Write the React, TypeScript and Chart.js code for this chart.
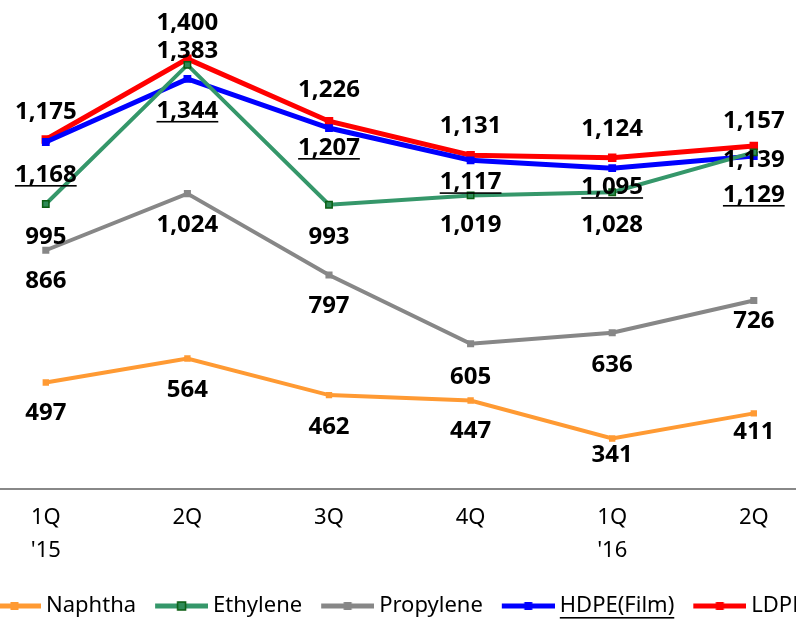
import React, { useEffect, useRef } from "react";
import { Chart, registerables } from "chart.js";

Chart.register(...registerables);

// ---- data ----
const QUARTERS = ["1Q", "2Q", "3Q", "4Q", "1Q", "2Q"];
const YEARS = ["'15", "", "", "", "'16", ""];
const SERIES_NAMES = ["Naphtha", "Ethylene", "Propylene", "HDPE(Film)", "LDPE"];
const NAPHTHA = [497, 564, 462, 447, 341, 411];
const ETHYLENE = [995, 1383, 993, 1019, 1028, 1139];
const PROPYLENE = [866, 1024, 797, 605, 636, 726];
const HDPE_FILM = [1168, 1344, 1207, 1117, 1095, 1129];
const LDPE = [1175, 1400, 1226, 1131, 1124, 1157];

const Y_MIN = 200;
const Y_MAX = 1500;

// ---- styling ----
const FONT = "'Noto Sans', 'DejaVu Sans', sans-serif";
const STYLES = [
  { line: "#FF9A33", width: 4, fill: "#FF9A33", border: "#FF9A33", radius: 4.5 },
  { line: "#35976A", width: 4, fill: "#2E8B57", border: "#0B5E12", radius: 4.5 },
  { line: "#878787", width: 4, fill: "#878787", border: "#878787", radius: 5 },
  { line: "#0000FF", width: 5, fill: "#0000FF", border: "#0000FF", radius: 5.5 },
  { line: "#FF0000", width: 5, fill: "#FF0000", border: "#FF0000", radius: 6 },
];
// vertical offset of each value label from its point (px)
const LABEL_DY = [
  [31, 32, 32, 31, 17, 19],
  [33, -14, 32, 30, 33, 8],
  [31, 32, 31, 33, 32, 21],
  [33, 32, 20, 22, 19, 39],
  [-27, -36, -31, -29, -29, -25],
];
const UNDERLINED = [false, false, false, true, false];

const CANVAS_W = 940;
const CANVAS_H = 627;
const CANVAS_LEFT = -31;
const PLOT_W = 855.6;
const LEGEND_BOX = 50;
const LEGEND_PAD = 16;
const LEGEND_FONT = 22;

function legendIcon(s: typeof STYLES[number]) {
  // line runs from (center-22) to (center+31) relative to the legend box centre
  const c = document.createElement("canvas");
  c.width = 62;
  c.height = 12;
  const g = c.getContext("2d")!;
  g.strokeStyle = s.line;
  g.lineWidth = 5;
  g.beginPath();
  g.moveTo(9, 6);
  g.lineTo(62, 6);
  g.stroke();
  const size = 8;
  const mid = 35.5;
  g.fillStyle = s.fill;
  g.fillRect(mid - size / 2, 6 - size / 2, size, size);
  if (s.border !== s.fill) {
    g.strokeStyle = s.border;
    g.lineWidth = 1.5;
    g.strokeRect(mid - size / 2, 6 - size / 2, size, size);
  }
  return c;
}

const valueLabels = {
  id: "valueLabels",
  afterDatasetsDraw(chart: any) {
    const ctx = chart.ctx as CanvasRenderingContext2D;
    ctx.save();
    ctx.font = `bold 24px ${FONT}`;
    ctx.fillStyle = "#000";
    ctx.textAlign = "center";
    ctx.textBaseline = "middle";
    chart.data.datasets.forEach((ds: any, i: number) => {
      const meta = chart.getDatasetMeta(i);
      meta.data.forEach((pt: any, j: number) => {
        const v = ds.data[j] as number;
        const txt = v.toLocaleString("en-US");
        const x = pt.x;
        const y = pt.y + LABEL_DY[i][j];
        ctx.fillText(txt, x, y);
        if (UNDERLINED[i]) {
          const w = ctx.measureText(txt).width;
          ctx.fillRect(x - w / 2, y + 10, w, 1.6);
        }
      });
    });
    ctx.restore();
  },
  afterDraw(chart: any) {
    const legend = chart.legend;
    if (!legend || !legend.legendHitBoxes) return;
    const idx = UNDERLINED.indexOf(true);
    const hb = legend.legendHitBoxes[idx];
    if (!hb) return;
    const ctx = chart.ctx as CanvasRenderingContext2D;
    ctx.save();
    ctx.font = `${LEGEND_FONT}px ${FONT}`;
    const txt = SERIES_NAMES[idx];
    const w = ctx.measureText(txt).width;
    const x = hb.left + LEGEND_BOX + LEGEND_FONT / 2;
    const y = hb.top + LEGEND_FONT / 2 + 11;
    ctx.fillStyle = "#000";
    ctx.fillRect(x, y, w, 1.6);
    ctx.restore();
  },
};

export default function App() {
  const ref = useRef<HTMLCanvasElement | null>(null);

  useEffect(() => {
    if (!ref.current) return;
    const labels = QUARTERS.map((q, i) => (YEARS[i] ? [q, YEARS[i]] : q));
    const seriesData = [NAPHTHA, ETHYLENE, PROPYLENE, HDPE_FILM, LDPE];
    const icons = STYLES.map(legendIcon);

    const chart = new Chart(ref.current, {
      type: "line",
      data: {
        labels,
        datasets: seriesData.map((d, i) => ({
          label: SERIES_NAMES[i],
          data: d,
          borderColor: STYLES[i].line,
          backgroundColor: STYLES[i].fill,
          borderWidth: STYLES[i].width,
          pointStyle: "rect",
          pointRadius: STYLES[i].radius,
          pointBackgroundColor: STYLES[i].fill,
          pointBorderColor: STYLES[i].border,
          pointBorderWidth: STYLES[i].border !== STYLES[i].fill ? 1.5 : 0,
          tension: 0,
          fill: false,
        })),
      },
      options: {
        responsive: false,
        animation: false,
        devicePixelRatio: 1,
        layout: { padding: { top: 23, left: 0, right: 0, bottom: 0 } },
        scales: {
          x: {
            offset: true,
            grid: { display: false, drawTicks: false },
            border: { display: true, color: "#888888", width: 2 },
            ticks: {
              color: "#000",
              font: { family: FONT, size: 22, lineHeight: 1.5 },
              padding: 12,
              maxRotation: 0,
              autoSkip: false,
            },
          },
          y: {
            position: "right",
            min: Y_MIN,
            max: Y_MAX,
            grid: { display: false, drawTicks: false },
            border: { display: false },
            ticks: { display: false },
            afterFit: (axis: any) => {
              axis.width = CANVAS_W - PLOT_W;
            },
          },
        },
        plugins: {
          tooltip: { enabled: false },
          legend: {
            position: "bottom",
            align: "start",
            labels: {
              usePointStyle: true,
              pointStyleWidth: LEGEND_BOX,
              padding: LEGEND_PAD,
              color: "#000",
              font: { family: FONT, size: LEGEND_FONT },
              generateLabels: (c: any) => {
                const items = Chart.defaults.plugins.legend.labels.generateLabels(c);
                return items.map((it: any) => ({
                  ...it,
                  pointStyle: icons[it.datasetIndex],
                  lineWidth: 0,
                }));
              },
            },
          },
        },
      } as any,
      plugins: [valueLabels],
    });
    return () => chart.destroy();
  }, []);

  return (
    <div
      style={{
        position: "fixed",
        left: 0,
        top: 0,
        width: 796,
        height: 620,
        overflow: "hidden",
        background: "#fff",
      }}
    >
      <canvas
        ref={ref}
        width={CANVAS_W}
        height={CANVAS_H}
        style={{ position: "absolute", left: CANVAS_LEFT, top: 0 }}
      />
    </div>
  );
}
